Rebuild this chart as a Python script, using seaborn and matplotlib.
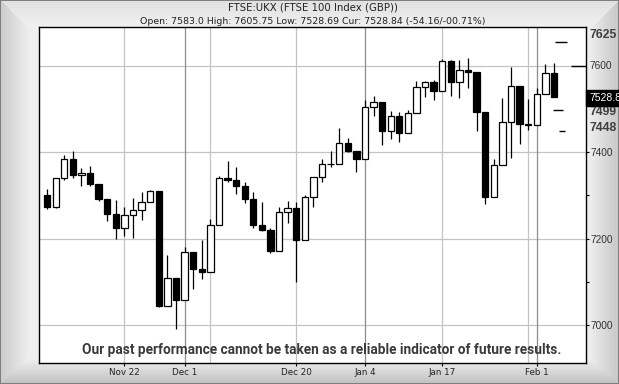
import numpy as np
import matplotlib
matplotlib.use("Agg")
import matplotlib.pyplot as plt
import seaborn as sns

# ---------------- data ----------------
dates = ["2021-11-09","2021-11-10","2021-11-11","2021-11-12","2021-11-15","2021-11-16","2021-11-17",
         "2021-11-18","2021-11-19","2021-11-22","2021-11-23","2021-11-24","2021-11-25","2021-11-26",
         "2021-11-29","2021-11-30","2021-12-01","2021-12-02","2021-12-03","2021-12-06","2021-12-07",
         "2021-12-08","2021-12-09","2021-12-10","2021-12-13","2021-12-14","2021-12-15","2021-12-16",
         "2021-12-17","2021-12-20","2021-12-21","2021-12-22","2021-12-23","2021-12-24","2021-12-29",
         "2021-12-30","2021-12-31","2022-01-04","2022-01-05","2022-01-06","2022-01-07","2022-01-10",
         "2022-01-11","2022-01-12","2022-01-13","2022-01-14","2022-01-17","2022-01-18","2022-01-19",
         "2022-01-20","2022-01-21","2022-01-24","2022-01-25","2022-01-26","2022-01-27","2022-01-28",
         "2022-01-31","2022-02-01","2022-02-02","2022-02-03"]
opens = [7300,7274,7340,7384,7348,7352,7327,7291,7256,7224,7255,7266,7286,7310,7044,7110,7059,7169,
         7129,7122,7232,7340,7337,7321,7292,7231,7219,7171,7261,7270,7198,7297,7342,7373,7372,7421,
         7403,7385,7505,7517,7450,7485,7445,7491,7552,7564,7543,7611,7564,7590,7585,7494,7297,7371,
         7470,7554,7466,7464,7536,7583.0]
highs = [7314,7341,7394,7402,7363,7368,7327,7291,7290,7273,7294,7308,7313,7310,7162,7110,7181,7169,
         7197,7246,7345,7380,7365,7331,7309,7286,7225,7273,7287,7286,7300,7343,7384,7402,7456,7433,
         7403,7521,7531,7517,7496,7494,7498,7565,7566,7567,7616,7615,7614,7618,7585,7494,7384,7525,
         7598,7554,7524,7548,7605,7605.75]
lows = [7268,7271,7336,7340,7323,7323,7288,7242,7199,7206,7202,7244,7286,7041,7044,6990,7059,7083,
        7106,7122,7232,7332,7303,7283,7225,7218,7166,7171,7236,7100,7198,7274,7331,7367,7372,7401,
        7355,7385,7483,7417,7431,7423,7445,7491,7529,7521,7543,7531,7525,7548,7450,7281,7297,7371,
        7388,7419,7451,7463,7536,7528.69]
closes = [7274,7340,7384,7348,7352,7327,7291,7256,7224,7255,7266,7286,7310,7044,7110,7059,7169,7129,
          7122,7232,7340,7337,7321,7292,7231,7219,7171,7261,7270,7198,7297,7342,7373,7372,7421,7403,
          7385,7505,7517,7450,7485,7445,7491,7552,7564,7543,7611,7564,7590,7585,7494,7297,7371,7470,
          7554,7466,7464,7536,7583,7528.84]

tick_dates = ["2021-11-22","2021-12-01","2021-12-20","2022-01-04","2022-01-17","2022-02-01"]
tick_labels = ["Nov 22","Dec 1","Dec 20","Jan 4","Jan 17","Feb 1"]
light_grid_dates = ["2021-11-22","2021-12-06","2021-12-20","2022-01-17","2022-01-31"]
month_grid_dates = ["2021-12-01","2022-01-04","2022-02-01"]
hgrid_levels = [7000, 7200, 7400, 7600]
yticks = [7000, 7100, 7200, 7300, 7400]
ytick_labels = ["7000", "", "7200", "", "7400"]

level_values = [7655, 7600, 7499, 7449]
level_labels = ["7625", "7600", "7499", "7448"]
current_price = 7528.84
current_label = "7528.8"

title = "FTSE:UKX (FTSE 100 Index (GBP))"
subtitle = "Open: 7583.0 High: 7605.75 Low: 7528.69 Cur: 7528.84 (-54.16/-00.71%)"
disclaimer = "Our past performance cannot be taken as a reliable indicator of future results."

# ---------------- style ----------------
sns.set_style("white")
plt.rcParams['font.family'] = ['DejaVu Sans']

W, H = 619, 384
fig = plt.figure(figsize=(W / 100, H / 100), dpi=100)

# bevelled grey frame
yy, xx = np.mgrid[0:H, 0:W]
dl, dr, dt, db = xx, W - 1 - xx, yy, H - 1 - yy
vals = np.stack([
    0.80 + 0.14 * np.clip(dl / 30, 0, 1),
    0.88 + 0.06 * np.clip(dt / 25, 0, 1),
    0.78 + 0.16 * np.clip(dr / 30, 0, 1),
    0.76 + 0.18 * np.clip(db / 25, 0, 1),
])
idx = np.argmin(np.stack([dl, dt, dr, db]), axis=0)
img = np.take_along_axis(vals, idx[None], 0)[0]
img[0, :] = img[-1, :] = img[:, 0] = img[:, -1] = 0.5
fig.figimage(np.dstack([img] * 3), xo=0, yo=0, origin='upper', zorder=0)

ax = fig.add_axes([38.7 / W, (H - 362.7) / H, 547 / W, (362.7 - 27.3) / H])
ax.set_zorder(2)
ax.set_facecolor('white')

n = len(dates)
x = np.arange(n)
o = np.array(opens, float); c = np.array(closes, float)
hi = np.array(highs, float); lo = np.array(lows, float)
pos = {d: i for i, d in enumerate(dates)}

# grid
for lvl in hgrid_levels:
    ax.axhline(lvl, color='#c4c4c4', lw=0.9, zorder=1)
for d in light_grid_dates:
    ax.axvline(pos[d], color='#c4c4c4', lw=0.9, zorder=1)
for d in month_grid_dates:
    ax.axvline(pos[d], color='#8c8c8c', lw=0.9, zorder=1)

# candles
ax.vlines(x, lo, hi, color='black', lw=0.9, zorder=2)
bottoms = np.minimum(o, c)
heights = np.maximum(np.abs(c - o), 1.5)
fills = ['white' if cc >= oo else 'black' for oo, cc in zip(o, c)]
ax.bar(x, heights, bottom=bottoms, width=0.74, color=fills, edgecolor='black',
       linewidth=0.9, zorder=3)

# projection dashes on the right
last = n - 1
dash_spans = [(0.13, 1.53), (1.99, 3.75), (-0.1, 1.06), (0.6, 1.3)]
for lvl, (a, b) in zip(level_values, dash_spans):
    ax.hlines(lvl, last + a, last + b, color='black', lw=1.0, zorder=3, clip_on=False)

ax.set_xlim(-0.98, 62.7)
ax.set_ylim(6912.7, 7689.6)

ax.set_xticks([pos[d] for d in tick_dates])
ax.set_xticklabels(tick_labels, fontsize=6.3, color='#222222')
ax.yaxis.tick_right()
ax.set_yticks(yticks)
ax.set_yticklabels(ytick_labels, fontsize=7.3, color='#333333',
                   family=['Liberation Sans', 'DejaVu Sans'])
ax.tick_params(axis='x', bottom=True, direction='out', length=2.5, width=0.8, pad=1.5, color='black')
ax.tick_params(axis='y', right=True, left=False, direction='out', length=2.2, width=0.8, pad=1.2,
               color='black')
for s in ax.spines.values():
    s.set_color('black'); s.set_linewidth(1.0)

# right-hand level labels
offsets = [14.5, 0, -2, 2.4]
weights = ['bold', 'normal', 'bold', 'bold']
sizes = [8.8, 7.3, 8.8, 8.8]
for lvl, lab, off, w, s in zip(level_values, level_labels, offsets, weights, sizes):
    ref = float(lab)
    ax.annotate(lab, xy=(1, ref), xycoords=('axes fraction', 'data'), xytext=(2.4, off),
                textcoords='offset points', ha='left', va='center', fontsize=s, fontweight=w,
                color='#404040' if w == 'bold' else '#333333',
                family=['Liberation Sans', 'DejaVu Sans'], annotation_clip=False)

ax.annotate(current_label, xy=(1, current_price), xycoords=('axes fraction', 'data'),
            xytext=(2.4, -1.2), textcoords='offset points', ha='left', va='center', fontsize=7.5,
            color='white', family=['Liberation Sans', 'DejaVu Sans'], annotation_clip=False,
            bbox=dict(boxstyle='square,pad=0.28', fc='black', ec='black'))

t_title = fig.text(312.5 / W, 1 - 7.5 / H, title, ha='center', va='center', fontsize=6.4,
                   color='#222222')
t_sub = fig.text(313 / W, 1 - 21 / H, subtitle, ha='center', va='center', fontsize=6.3,
                 color='#222222')
t_disc = ax.text(0.518, 0.038, disclaimer, transform=ax.transAxes, ha='center', va='center',
                 fontsize=10, fontweight='bold', color='#3a3a3a',
                 family=['Roboto', 'Liberation Sans', 'DejaVu Sans'], zorder=5)

# fit text widths to the reference layout
fig.canvas.draw()
renderer = fig.canvas.get_renderer()
for t, target in [(t_title, 169), (t_sub, 346), (t_disc, 481)]:
    for _ in range(2):
        wpx = t.get_window_extent(renderer).width
        t.set_fontsize(t.get_fontsize() * target / wpx)
        fig.canvas.draw()

fig.savefig("out.png", dpi=100)
